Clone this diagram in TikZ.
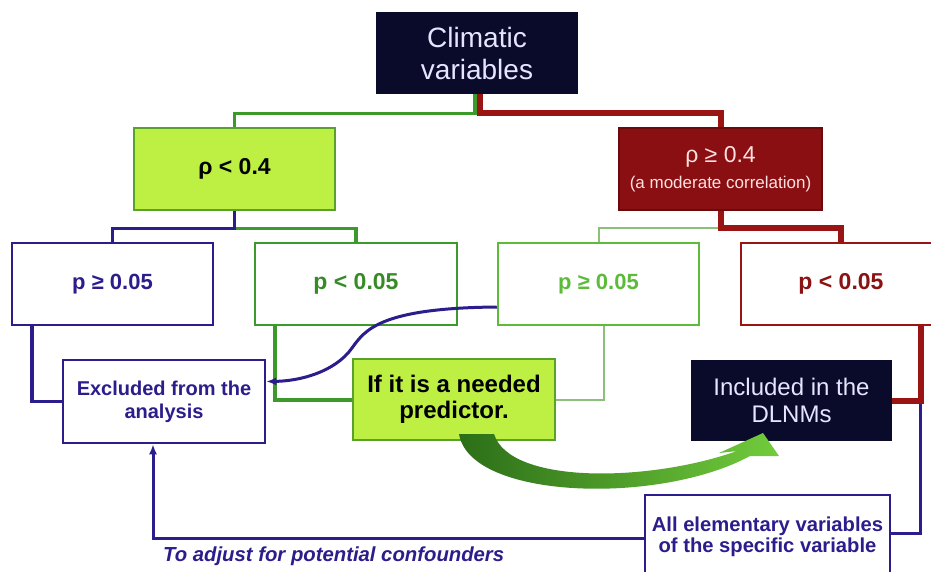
\documentclass[tikz,border=0pt]{standalone}
\usepackage{fontspec}
\setmainfont{Liberation Sans}
\usetikzlibrary{calc,arrows.meta}
\definecolor{navy}{HTML}{0A0B2A}
\definecolor{ygreen}{HTML}{BDF042}
\definecolor{ygborder}{HTML}{5AA02C}
\definecolor{dred}{HTML}{8A0F12}
\definecolor{dredb}{HTML}{6A0A0A}
\definecolor{cblue}{HTML}{2B1D8C}
\definecolor{cgreen}{HTML}{3C9A2A}
\definecolor{lgreen}{HTML}{5DBB3A}
\definecolor{pgreen}{HTML}{8AC07A}
\definecolor{cred}{HTML}{9A1414}
\definecolor{agreenA}{HTML}{2C6E18}
\definecolor{agreenB}{HTML}{72CC3C}
\tikzset{
  box/.style={inner sep=0pt, align=center, line width=2.5pt},
  tip/.style={-{Latex[length=10pt,width=8pt]}},
}
\begin{document}
\begin{tikzpicture}[x=1pt,y=-1pt]
\useasboundingbox (0,0) rectangle (931,571);
\clip (0,0) rectangle (931,571);
\fill[white] (0,0) rectangle (931,571);

% nodes
\node[box, fill=navy, draw=navy, text=white!90!blue, minimum width=200pt, minimum height=80pt,
      font=\fontsize{28}{32}\selectfont] (clim) at (477,53) {Climatic\\variables};
\node[box, fill=ygreen, draw=ygborder, minimum width=201pt, minimum height=82pt,
      font=\fontsize{23}{26}\selectfont\bfseries] (rlo) at (234.5,169) {ρ < 0.4};
\node[box, fill=dred, draw=dredb, text=white!88!red, minimum width=203pt, minimum height=82pt] (rhi) at (720.5,169)
      {{\fontsize{23}{26}\selectfont ρ ≥ 0.4}\\[8pt]{\fontsize{17}{19}\selectfont (a moderate correlation)}};

\node[box, draw=cblue, text=cblue, minimum width=201pt, minimum height=82pt,
      font=\fontsize{22}{26}\selectfont\bfseries] (pa) at (112.5,284) {p ≥ 0.05};
\node[box, draw=cgreen, text=cgreen!90!black, minimum width=202pt, minimum height=82pt,
      font=\fontsize{23}{26}\selectfont\bfseries] (pb) at (356,284) {p < 0.05};
\node[box, draw=lgreen, text=lgreen, minimum width=201pt, minimum height=82pt,
      font=\fontsize{22}{26}\selectfont\bfseries] (pc) at (598.5,284) {p ≥ 0.05};
\node[box, draw=cred, text=cred!90!black, minimum width=200pt, minimum height=82pt,
      font=\fontsize{23}{26}\selectfont\bfseries] (pd) at (841,284) {p < 0.05};

\node[box, draw=cblue, text=cblue, minimum width=202pt, minimum height=83pt,
      font=\fontsize{20}{23}\selectfont\bfseries] (excl) at (164,401.5) {Excluded from the\\analysis};
\node[box, fill=ygreen, draw=ygborder, minimum width=202pt, minimum height=81pt,
      font=\fontsize{24}{26}\selectfont\bfseries] (pred) at (454,399.5) {If it is a needed\\predictor.};
\node[box, fill=navy, draw=navy, text=white!90!blue, minimum width=199pt, minimum height=79pt,
      font=\fontsize{24}{27}\selectfont] (incl) at (791.5,400.5) {Included in the\\DLNMs};
\node[box, draw=cblue, text=cblue, minimum width=245pt, minimum height=84pt,
      font=\fontsize{20.2}{21}\selectfont\bfseries] (all) at (767.5,537) {All elementary variables\\of the specific variable};

\node[anchor=west, inner sep=0pt, text=cblue, font=\fontsize{20.3}{22}\selectfont\bfseries\itshape] (adj) at (163,556)
      {To adjust for potential confounders};

% top connectors
\draw[cgreen, line width=3.5pt] ($(clim.south)+(-2,0)$) -- ++(0,19) -| (rlo.north);
\draw[cred, line width=6pt] ($(clim.south)+(3,0)$) -- ++(0,19) -| (rhi.north);

\draw[cgreen, line width=3.5pt] ($(rlo.south)+(0,17)$) -| (pb.north);
\draw[cblue, line width=3.5pt] (rlo.south) -- ++(0,17) -| (pa.north);

\draw[pgreen, line width=2pt] ($(rhi.south)+(0,17)$) -| (pc.north);
\draw[cred, line width=6pt] (rhi.south) -- ++(0,17) -| (pd.north);

% lower connectors
\draw[cblue, line width=3.5pt] ($(pa.south west)+(21,0)$) |- (excl.west);
\draw[cgreen, line width=4pt] ($(pb.south west)+(21,0)$) |- (pred.west);
\draw[pgreen, line width=2pt] ($(pc.south west)+(107,0)$) |- (pred.east);
\path ($(pd.south west)+(181,0)$) coordinate (rtop);
\coordinate (rj) at (rtop |- incl.east);
\draw[cblue, line width=3pt] (rj) |- ($(all.east)+(0,-4)$);
\draw[cred, line width=6pt] (rtop) |- (incl.east);

\draw[cblue, line width=3pt, tip] ($(all.west)+(0,1)$) -| ($(excl.south)+(-11,0)$);

\draw[cblue, line width=3pt, tip] ($(pc.west)+(0,23)$)
   .. controls (380,308) and (365,330) .. (352,348)
   .. controls (335,372) and (300,381) .. ($(excl.east)+(0,-20)$);

% big green arrow
\shade[left color=agreenA, right color=agreenB]
  (459,434) .. controls (470,500) and (660,505) .. (750,456)
  -- (779,456) -- (763,433) -- (719,453) -- (737,451)
  .. controls (650,482) and (510,485) .. (494,434) -- cycle;
\end{tikzpicture}
\end{document}
